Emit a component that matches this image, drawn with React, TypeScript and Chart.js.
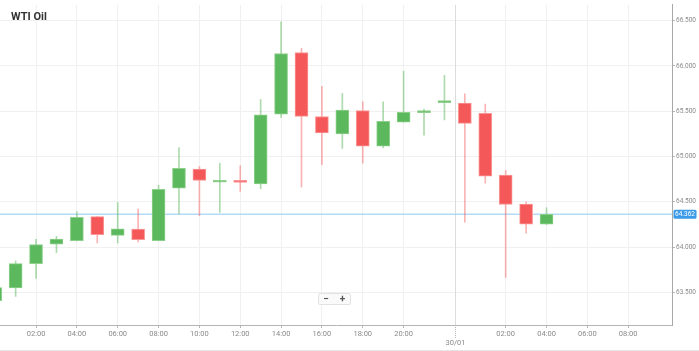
import React, { useEffect, useRef } from "react";
import { Chart, registerables } from "chart.js";

Chart.register(...registerables);

const title = "WTI Oil";
const dateLabel = "30/01";
const currentPrice = 64.362;

// hourly slots (29/01 00:00 .. 22:00, then 30/01 00:00 .. 09:00)
const slotTimes = [
  "00:00", "01:00", "02:00", "03:00", "04:00", "05:00", "06:00", "07:00",
  "08:00", "09:00", "10:00", "11:00", "12:00", "13:00", "14:00", "15:00",
  "16:00", "17:00", "18:00", "19:00", "20:00", "21:00", "22:00",
  "00:00", "01:00", "02:00", "03:00", "04:00", "05:00", "06:00", "07:00",
  "08:00", "09:00",
];

const opens = [
  63.41, 63.551, 63.818, 64.033, 64.073, 64.337, 64.13, 64.199, 64.073, 64.652,
  64.862, 64.717, 64.72, 64.699, 65.467, 66.149, 65.442, 65.25, 65.508, 65.116,
  65.38, 65.485, 65.595, 65.59, 65.478, 64.797, 64.475, 64.253,
];
const highs = [
  63.57, 63.848, 64.087, 64.12, 64.391, 64.34, 64.492, 64.421, 64.682, 65.098,
  64.891, 64.927, 64.899, 65.63, 66.486, 66.196, 65.775, 65.696, 65.605, 65.605,
  65.942, 65.525, 65.895, 65.692, 65.579, 64.845, 64.5, 64.435,
];
const lows = [
  63.38, 63.457, 63.655, 63.938, 64.07, 64.047, 64.047, 64.058, 64.07, 64.366,
  64.348, 64.384, 64.616, 64.645, 65.432, 64.663, 64.91, 65.09, 64.927, 65.098,
  65.38, 65.236, 65.405, 64.275, 64.707, 63.666, 64.155, 64.25,
];
const closes = [
  63.554, 63.818, 64.029, 64.09, 64.329, 64.138, 64.203, 64.084, 64.638, 64.87,
  64.736, 64.739, 64.715, 65.46, 66.138, 65.442, 65.261, 65.514, 65.116, 65.388,
  65.489, 65.49, 65.6, 65.367, 64.783, 64.471, 64.253, 64.362,
];

const yTicks = [63.5, 64.0, 64.5, 65.0, 65.5, 66.0, 66.5];

const GREEN = "rgb(92,184,92)";
const GREEN_BORDER = "rgb(140,208,140)";
const GREEN_WICK = "rgba(92,184,92,0.5)";
const RED = "rgb(245,88,88)";
const RED_BORDER = "rgb(250,150,150)";
const RED_WICK = "rgba(245,88,88,0.45)";

export default function App() {
  const ref = useRef<HTMLCanvasElement | null>(null);

  useEffect(() => {
    document.body.style.margin = "0";
    const canvas = ref.current;
    if (!canvas) return;

    const boundary = slotTimes.findIndex((t, i) => i > 0 && t === "00:00");
    const xMin = 0.235;
    const xMax = 33.145;
    const tickIdx = slotTimes
      .map((t, i) => i)
      .filter((i) => {
        const t = slotTimes[i];
        const h = parseInt(t, 10);
        return h % 2 === 0 && t !== "00:00" && t !== "22:00" && i >= xMin && i <= xMax;
      });

    const up = opens.map((o, i) => closes[i] >= o);

    const overlay = {
      id: "overlay",
      beforeDatasetsDraw(chart: any) {
        const { ctx, chartArea: a, scales } = chart;
        const x = scales.x;
        const y = scales.y;
        ctx.save();
        const sx = Math.round(x.getPixelForValue(boundary - 0.5)) + 0.5;
        ctx.strokeStyle = "#dcdcdc";
        ctx.lineWidth = 1;
        ctx.beginPath();
        ctx.moveTo(sx, a.top);
        ctx.lineTo(sx, a.bottom);
        ctx.stroke();
        const py = y.getPixelForValue(currentPrice);
        ctx.strokeStyle = "rgba(160,210,245,0.8)";
        ctx.lineWidth = 1.5;
        ctx.beginPath();
        ctx.moveTo(a.left, py);
        ctx.lineTo(a.right, py);
        ctx.stroke();
        ctx.restore();
      },
      afterDraw(chart: any) {
        const { ctx, chartArea: a, scales, width } = chart;
        const x = scales.x;
        const y = scales.y;
        ctx.save();
        // date separator tick and label
        const sx = Math.round(x.getPixelForValue(boundary - 0.5)) + 0.5;
        ctx.strokeStyle = "#b5b5b5";
        ctx.lineWidth = 1;
        ctx.setLineDash([1, 1]);
        ctx.beginPath();
        ctx.moveTo(sx, a.bottom);
        ctx.lineTo(sx, a.bottom + 13);
        ctx.stroke();
        ctx.setLineDash([]);
        ctx.fillStyle = "#8a8a8a";
        ctx.font = "7.5px Roboto";
        ctx.textAlign = "center";
        ctx.textBaseline = "middle";
        ctx.fillText(dateLabel, sx, a.bottom + 18);

        // current price label
        const py = y.getPixelForValue(currentPrice);
        ctx.fillStyle = "#3b9be8";
        ctx.beginPath();
        ctx.roundRect(a.right + 1.5, py - 4.5, 23, 9, 1.5);
        ctx.fill();
        ctx.fillStyle = "#ffffff";
        ctx.font = "6.5px Roboto";
        ctx.textAlign = "center";
        ctx.fillText(currentPrice.toFixed(3), a.right + 13, py + 0.5);

        // title
        ctx.fillStyle = "#333333";
        ctx.font = "bold 11px Roboto";
        ctx.textAlign = "left";
        ctx.textBaseline = "alphabetic";
        ctx.fillText(title, 11, 19.5);

        // zoom buttons
        ctx.fillStyle = "#fafafa";
        ctx.strokeStyle = "#e2e2e2";
        ctx.beginPath();
        ctx.roundRect(318.5, 293.5, 32, 11, 1.5);
        ctx.fill();
        ctx.stroke();
        ctx.fillStyle = "#555555";
        ctx.font = "bold 10px Roboto";
        ctx.textAlign = "center";
        ctx.textBaseline = "middle";
        ctx.fillText("\u2212", 326, 299);
        ctx.fillText("+", 342.5, 299);

        // bottom frame line
        ctx.strokeStyle = "#e6e6e6";
        ctx.beginPath();
        ctx.moveTo(0, 350.5);
        ctx.lineTo(width, 350.5);
        ctx.stroke();
        ctx.restore();
      },
    };

    const chart = new Chart(canvas, {
      type: "bar",
      data: {
        datasets: [
          {
            label: "body",
            data: opens.map((o, i) => ({ x: i, y: [o, closes[i]] })) as any,
            backgroundColor: up.map((u) => (u ? GREEN : RED)),
            borderColor: up.map((u) => (u ? GREEN_BORDER : RED_BORDER)),
            borderWidth: 1,
            borderSkipped: false,
            barThickness: 13,
            minBarLength: 2,
            grouped: false,
            order: 0,
          } as any,
          {
            label: "wick",
            data: lows.map((l, i) => ({ x: i, y: [l, highs[i]] })) as any,
            backgroundColor: up.map((u) => (u ? GREEN_WICK : RED_WICK)),
            borderWidth: 0,
            barThickness: 1,
            grouped: false,
            order: 1,
          } as any,
        ],
      },
      options: {
        animation: false,
        responsive: true,
        maintainAspectRatio: false,
        layout: { padding: 0 },
        plugins: {
          legend: { display: false },
          tooltip: { enabled: false },
          title: { display: false },
        },
        scales: {
          x: {
            type: "linear",
            min: xMin,
            max: xMax,
            offset: false,
            grid: { color: "#f0f0f0", tickLength: 3, tickColor: "#b5b5b5", offset: false },
            border: { color: "#b5b5b5" },
            ticks: {
              autoSkip: false,
              maxRotation: 0,
              padding: 2,
              color: "#8a8a8a",
              font: { size: 7.5, family: "Roboto" },
              callback: (v: any) => slotTimes[Math.round(Number(v))] ?? "",
            },
            afterBuildTicks: (s: any) => {
              s.ticks = tickIdx.map((v) => ({ value: v }));
            },
            afterFit: (s: any) => {
              s.height = 26;
            },
          } as any,
          y: {
            type: "linear",
            position: "right",
            min: 63.141,
            max: 66.674,
            grid: { color: "#f0f0f0", tickLength: 3, tickColor: "#b5b5b5" },
            border: { color: "#a8a8a8" },
            ticks: {
              padding: 1,
              color: "#8a8a8a",
              font: { size: 6.5, family: "Roboto" },
              callback: (v: any) => Number(v).toFixed(3),
            },
            afterBuildTicks: (s: any) => {
              s.ticks = yTicks.map((v) => ({ value: v }));
            },
            afterFit: (s: any) => {
              s.width = 27;
            },
          } as any,
        },
      },
      plugins: [overlay],
    });

    return () => chart.destroy();
  }, []);

  return (
    <div style={{ width: 699, height: 351, position: "relative" }}>
      <canvas ref={ref} />
    </div>
  );
}
